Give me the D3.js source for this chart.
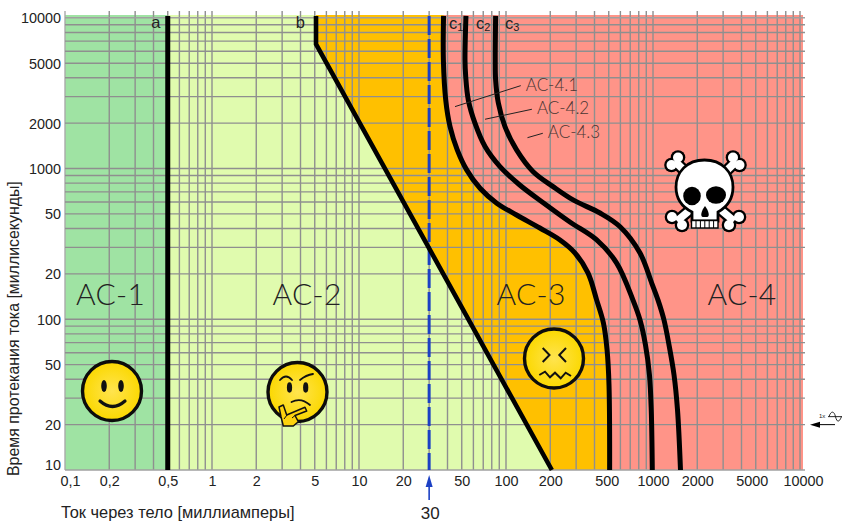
<!DOCTYPE html>
<html><head><meta charset="utf-8">
<script src="https://cdn.jsdelivr.net/npm/d3@7"></script>
<style>html,body{margin:0;padding:0;background:#fff}svg{display:block}
text{font-family:"Liberation Sans",Arial,sans-serif;fill:#222}</style></head>
<body><svg id="c" width="842" height="522"></svg>
<script>
const xTicks=[0.1,0.2,0.5,1,2,5,10,20,50,100,200,500,1000,2000,5000,10000];
const xTickLabels=["0,1","0,2","0,5","1","2","5","10","20","50","100","200","500","1000","2000","5000","10000"];
const yTicks=[10000,5000,2000,1000,500,200,100,50,20,10];
const yTickLabels=["10000","5000","2000","1000","50","20","100","50","20","10"];
const gridDigits=[1,2,3,4,5,6,7,8,9];
const xDecades=[0.1,1,10,100,1000];
const yDecades=[10,100,1000];
const curveA=[[0.5,10300],[0.5,10]];
const curveB=[[5.1,10300],[5.1,6700],[205,10]];
const curveC1=[[37.6,10300],[37.5,5250],[38.9,2850],[41.6,1900],[46.6,1330],[54,980],[66.6,740],[86.5,589],[118,492],[170,403],[233,336],[295,275],[361,203],[414,134],[460,94.5],[487,62.5],[502,36.6],[507,10]];
const curveC2=[[53.4,10300],[52.6,5250],[53.2,4070],[55.4,2850],[61.5,2000],[72,1400],[91,1030],[124,778],[184,582],[272,442],[414,336],[566,236],[731,134],[816,98.9],[889,67.5],[946,42.7],[973,25],[989,10]];
const curveC3=[[85,10300],[84.5,5250],[85,3870],[88.7,2725],[98.4,1900],[118,1330],[153,953],[209,759],[286,619],[436,507],[597,411],[816,275],[984,172],[1082,134],[1188,98.9],[1285,67.5],[1390,42.7],[1468,25],[1538,10]];
const threshold=30;
const zoneLabels=[["AC-1",0.204],["AC-2",4.43],["AC-3",148],["AC-4",4030]];
const zoneLabelT=124;
const leaders=[["AC-4.1",[45,2576],[126,3548]],["AC-4.2",[72,2123],[150,2473]],["AC-4.3",[140,1603],[178,1714]]];
const curveNames=[["c","1",41],["c","2",62.5],["c","3",98.4]];

const W=842,H=522,L=65,R=803,T=15,B=470;
const xMax=10480,tMax=10440;
const x=d3.scaleLog().domain([0.1,xMax]).range([L,R]);
const y=d3.scaleLog().domain([10,tMax]).range([B,T]);
const svg=d3.select("#c");
const defs=svg.append("defs");
const g=defs.append("radialGradient").attr("id","face");
g.append("stop").attr("offset","0%").attr("stop-color","#ffe44f");
g.append("stop").attr("offset","100%").attr("stop-color","#fbd800");

// zones
const area=(c)=>d3.area().y(d=>y(d[1])).x0(L).x1(d=>x(d[0])).curve(c);
svg.append("rect").attr("x",L).attr("y",T).attr("width",R-L).attr("height",B-T).attr("fill","#ff9488");
svg.append("path").datum([[curveC1[0][0],tMax],...curveC1]).attr("fill","#ffc000").attr("d",area(d3.curveCatmullRom));
svg.append("path").datum([[curveB[0][0],tMax],...curveB]).attr("fill","#e0fbae").attr("d",area(d3.curveLinear));
svg.append("rect").attr("x",L).attr("y",T).attr("width",x(0.5)-L).attr("height",B-T).attr("fill","#9fe3a3");

// grid
const grid=svg.append("g").attr("stroke","#8f8f8f").attr("stroke-width",1.4);
const xGrid=xDecades.flatMap(k=>gridDigits.map(d=>d*k)).concat(10000);
const yGrid=yDecades.flatMap(k=>gridDigits.map(d=>d*k)).concat(10000);
grid.selectAll("line.v").data(xGrid).join("line").attr("class","v")
 .attr("x1",d=>x(d)).attr("x2",d=>x(d)).attr("y1",T-4).attr("y2",B)
 .attr("stroke",d=>d===0.1?"#aaa":null);
grid.selectAll("line.h").data(yGrid).join("line").attr("class","h")
 .attr("x1",L).attr("x2",R+2).attr("y1",d=>y(d)).attr("y2",d=>y(d))
 .attr("stroke",d=>d===10||d===10000?"#a0a0a0":null);

// threshold dashed
svg.append("line").attr("x1",x(threshold)).attr("x2",x(threshold)).attr("y1",y(10300)).attr("y2",B)
 .attr("stroke","#1c40c4").attr("stroke-width",3).attr("stroke-dasharray","19 4");

// curves
const ln=d3.line().x(d=>x(d[0])).y(d=>y(d[1]));
const curves=svg.append("g").attr("fill","none").attr("stroke","#000");
curves.append("path").attr("d",ln(curveA)).attr("stroke-width",5);
curves.append("path").attr("d",ln(curveB)).attr("stroke-width",4.6);
const smooth=d3.line().x(d=>x(d[0])).y(d=>y(d[1])).curve(d3.curveCatmullRom);
[curveC1,curveC2,curveC3].forEach(c=>curves.append("path").attr("d",smooth(c)).attr("stroke-width",5));

// axes
const xAxis=svg.append("g").attr("transform",`translate(0,${B})`)
 .call(d3.axisBottom(x).tickValues(xTicks).tickSize(0).tickPadding(6).tickFormat((d,i)=>xTickLabels[i]));
xAxis.select(".domain").remove();
xAxis.selectAll("text").attr("font-size",14.4).attr("font-family","Liberation Sans").attr("fill","#222")
 .attr("dx",d=>d===0.1?5:d===5000?-4:d===10000?3:d===500?-2:0);
const yAxis=svg.append("g").attr("transform",`translate(${L},0)`)
 .call(d3.axisLeft(y).tickValues(yTicks).tickSize(0).tickPadding(4).tickFormat((d,i)=>yTickLabels[i]));
yAxis.select(".domain").remove();
yAxis.selectAll("text").attr("font-size",14.4).attr("font-family","Liberation Sans").attr("fill","#222")
 .attr("dy",d=>d===10?"-0.02em":"0.34em");

svg.append("text").attr("x",61).attr("y",518).attr("font-size",16.4).text("Ток через тело [миллиамперы]");
svg.append("text").attr("transform","translate(19,476) rotate(-90)").attr("font-size",15.9).text("Время протекания тока [миллисекунды]");

// blue arrow and value
svg.append("line").attr("x1",x(threshold)).attr("x2",x(threshold)).attr("y1",500).attr("y2",482).attr("stroke","#1c40c4").attr("stroke-width",1.6);
svg.append("path").attr("transform",`translate(${x(threshold)},0)`).attr("d","M0,475L-3.5,487H3.5Z").attr("fill","#1c40c4");
svg.append("text").attr("x",x(threshold)+1).attr("y",519).attr("text-anchor","middle").attr("font-size",17).text(threshold);

// curve letters
svg.append("text").attr("x",x(0.5)-16.5).attr("y",28).attr("font-size",16.5).text("a");
svg.append("text").attr("x",x(5)-19).attr("y",28).attr("font-size",16.5).text("b");
curveNames.forEach(n=>{
 const t=svg.append("text").attr("x",x(n[2])).attr("y",29).attr("font-size",16.5);
 t.append("tspan").text(n[0]);
 t.append("tspan").attr("dy",2).attr("font-size",11).text(n[1]);
});

// zone labels
const thin='Lato';
zoneLabels.forEach(z=>{
 svg.append("text").attr("x",x(z[1])).attr("y",y(zoneLabelT))
 .attr("font-weight",300).attr("font-size",30).attr("text-anchor","middle")
 .style("font-family",thin).style("letter-spacing","0.3px").text(z[0]);
});

// leaders
leaders.forEach(l=>{
 svg.append("line").attr("x1",x(l[1][0])).attr("y1",y(l[1][1])).attr("x2",x(l[2][0])).attr("y2",y(l[2][1])).attr("stroke","#222").attr("stroke-width",1);
 svg.append("text").attr("x",x(l[2][0])+5).attr("y",y(l[2][1])+5)
 .style("font-family",thin).attr("font-weight",300).attr("font-size",17).style("fill","#4a3633").text(l[0]);
});

// faces
function face(cx,cy){const f=svg.append("g");
 f.append("circle").attr("cx",cx).attr("cy",cy).attr("r",29.5).attr("fill","url(#face)").attr("stroke","#0c0c0c").attr("stroke-width",3.4);return f;}
const happy=face(112,391);
happy.append("ellipse").attr("cx",104).attr("cy",386).attr("rx",2.8).attr("ry",6).attr("fill","#111");
happy.append("ellipse").attr("cx",121).attr("cy",386).attr("rx",2.8).attr("ry",6).attr("fill","#111");
happy.append("path").attr("d","M100,401Q112.5,412 125,401").attr("fill","none").attr("stroke","#111").attr("stroke-width",3.2).attr("stroke-linecap","round");

const think=face(297.5,392);
think.append("ellipse").attr("cx",289.5).attr("cy",387.5).attr("rx",2.6).attr("ry",5.2).attr("fill","#111");
think.append("ellipse").attr("cx",305.7).attr("cy",387.5).attr("rx",2.6).attr("ry",5.2).attr("fill","#111");
think.append("g").attr("fill","none").attr("stroke","#111").attr("stroke-width",1.8).attr("stroke-linecap","round").call(s=>{
 s.append("path").attr("d","M280,380Q286,373 292,380");
 s.append("path").attr("d","M300,380Q306,375 313,374");
 s.append("path").attr("d","M291.5,402Q301,397 310,405");
});
think.append("path").attr("d","M279,407L283.3,405L286.7,415L305,407.3L306.7,411L295,415.5L298.3,421.7L293.3,426L283.3,426L281,416.7Z")
 .attr("fill","#fdd20e").attr("stroke","#111").attr("stroke-width",1.5).attr("stroke-linejoin","round");
think.append("path").attr("d","M287,415L284,419M295,415.5L292,418").attr("fill","none").attr("stroke","#111").attr("stroke-width",1);

const sick=face(554,358.5);
sick.append("path").attr("d","M542.7,348L549.5,355L542.7,362M566,348L559.3,355L566,362M539.3,375L545,371.7L550,377.3L555,372.7L560.7,378.3L565.7,372.7L571,376")
 .attr("fill","none").attr("stroke","#111").attr("stroke-width",2);

// skull
const sk=svg.append("g");
const bones=[[[678,157.5],[671.5,165],[692,178]],[[733,157.5],[739.5,165],[719,178]],[[672,217],[682,225],[696,205]],[[739,217],[729,225],[715,205]]];
[["#000",7.3,12],["#fff",5,7.5]].forEach(p=>{
 bones.forEach(b=>{
  b.slice(0,2).forEach(c=>sk.append("circle").attr("cx",c[0]).attr("cy",c[1]).attr("r",p[1]).attr("fill",p[0]));
  const mx=(b[0][0]+b[1][0])/2,my=(b[0][1]+b[1][1])/2;
  sk.append("line").attr("x1",mx).attr("y1",my).attr("x2",b[2][0]).attr("y2",b[2][1]).attr("stroke",p[0]).attr("stroke-width",p[2]);
 });
});
sk.append("path").attr("d","M704.5,160C722,160 733,172 733,187C733,199 727,207 718,212L718,221H692L692,212C682,207 676,199 676,187C676,172 687,160 704.5,160Z")
 .attr("fill","#fff").attr("stroke","#000").attr("stroke-width",2.8);
sk.append("rect").attr("x",691.5).attr("y",220.5).attr("width",26.5).attr("height",7.5).attr("fill","#fff").attr("stroke","#000").attr("stroke-width",1.4);
d3.range(5).forEach(i=>sk.append("line").attr("x1",696+i*4.4).attr("x2",696+i*4.4).attr("y1",220).attr("y2",228).attr("stroke","#000").attr("stroke-width",1));
sk.append("ellipse").attr("cx",692).attr("cy",196).attr("rx",8.8).attr("ry",9.3).attr("fill","#000");
sk.append("ellipse").attr("cx",716).attr("cy",195).attr("rx",10).attr("ry",8.8).attr("fill","#000");
sk.append("path").attr("d","M705,206C701,211 700,217 703,217L707,217C710,217 709,211 705,206Z").attr("fill","#000");

// right edge marker
const yMark=y(20);
svg.append("line").attr("x1",817).attr("x2",835).attr("y1",yMark).attr("y2",yMark).attr("stroke","#000").attr("stroke-width",1);
svg.append("path").attr("d",`M810,${yMark}L820,${yMark-3}V${yMark+3}Z`).attr("fill","#000");
svg.append("text").attr("x",819).attr("y",yMark-7).attr("font-size",6).text("1x");
svg.append("path").attr("d",`M828,${yMark-8}H842M829,${yMark-8}C831,${yMark-14} 834,${yMark-14} 835.5,${yMark-8}S839,${yMark-2} 841.5,${yMark-8}`)
 .attr("fill","none").attr("stroke","#111").attr("stroke-width",0.9);
</script></body></html>
